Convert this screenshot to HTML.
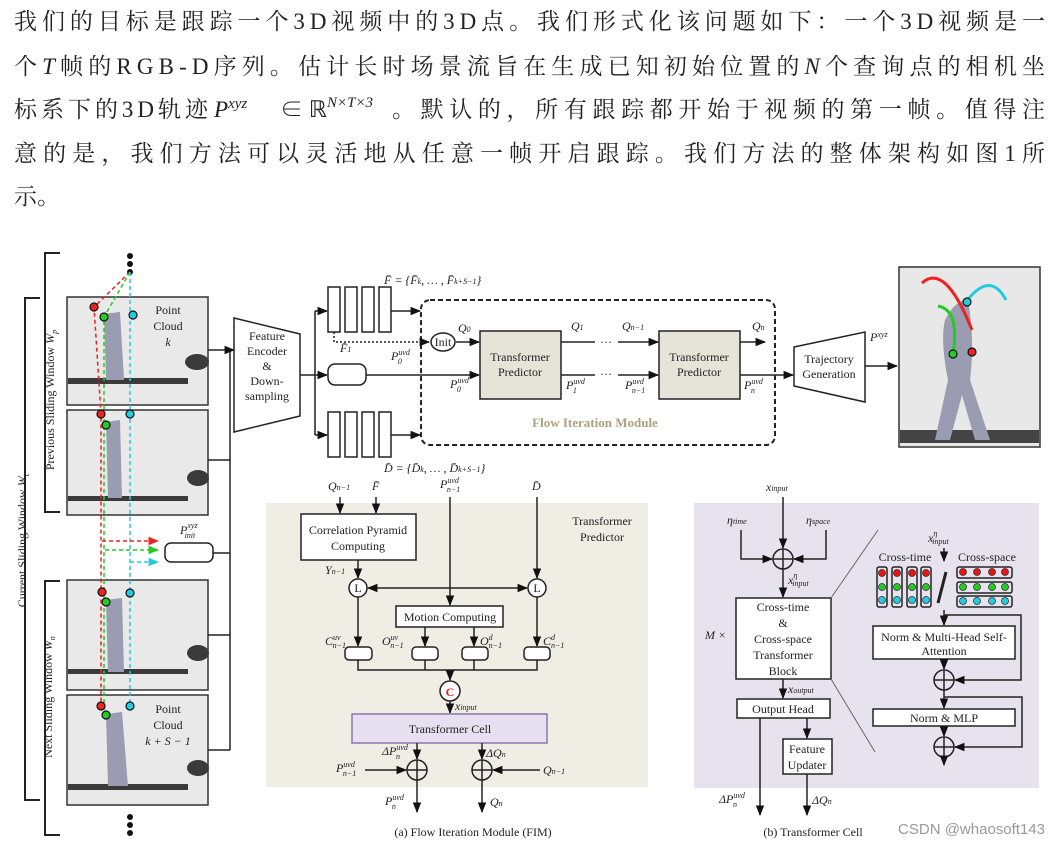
<!DOCTYPE html>
<html><head><meta charset="utf-8"><style>
html,body{margin:0;padding:0;background:#fff;width:1061px;height:845px;overflow:hidden}
svg{display:block}
.cn{font-family:"Liberation Serif","Noto Serif CJK SC","Noto Sans CJK SC",serif;font-size:23px;fill:#222}
.t{font-family:"Liberation Serif",serif;font-size:12px;fill:#222}
.i{font-family:"Liberation Serif",serif;font-size:12px;font-style:italic;fill:#222}
.s{font-size:8px}
</style></head><body>
<svg width="1061" height="845" viewBox="0 0 1061 845" xmlns="http://www.w3.org/2000/svg">
<defs>
<marker id="a" viewBox="0 0 10 10" refX="9" refY="5" markerWidth="7" markerHeight="7" orient="auto-start-reverse"><path d="M0,1 L10,5 L0,9z" fill="#111"/></marker>
<marker id="ar" viewBox="0 0 10 10" refX="9" refY="5" markerWidth="7" markerHeight="7" orient="auto"><path d="M0,1 L10,5 L0,9z" fill="#e22"/></marker>
<marker id="ag" viewBox="0 0 10 10" refX="9" refY="5" markerWidth="7" markerHeight="7" orient="auto"><path d="M0,1 L10,5 L0,9z" fill="#2c2"/></marker>
<marker id="ac" viewBox="0 0 10 10" refX="9" refY="5" markerWidth="7" markerHeight="7" orient="auto"><path d="M0,1 L10,5 L0,9z" fill="#2cd"/></marker>
</defs>

<!-- paragraph -->
<text class="cn" x="14" y="29" textLength="1031" lengthAdjust="spacing">我们的目标是跟踪一个3D视频中的3D点。我们形式化该问题如下：一个3D视频是一</text>
<text class="cn" x="14" y="74" textLength="1031" lengthAdjust="spacing">个<tspan font-style="italic">T</tspan>帧的RGB-D序列。估计长时场景流旨在生成已知初始位置的<tspan font-style="italic">N</tspan>个查询点的相机坐</text>
<text class="cn" x="14" y="117" textLength="194" lengthAdjust="spacing">标系下的3D轨迹</text>
<text class="cn" x="214" y="117"><tspan font-style="italic">P</tspan><tspan font-style="italic" font-size="15" dy="-9">xyz</tspan></text>
<text class="cn" x="280" y="117">∈ ℝ<tspan font-size="15" dy="-10" font-style="italic">N×T×3</tspan></text>
<text class="cn" x="392" y="117" textLength="653" lengthAdjust="spacing">。默认的，所有跟踪都开始于视频的第一帧。值得注</text>
<text class="cn" x="14" y="161" textLength="1031" lengthAdjust="spacing">意的是，我们方法可以灵活地从任意一帧开启跟踪。我们方法的整体架构如图1所</text>
<text class="cn" x="14" y="204">示。</text>

<!-- left brackets -->
<g stroke="#222" stroke-width="2" fill="none">
<path d="M60,253 H45 V512 H60"/>
<path d="M60,581 H45 V835 H60"/>
<path d="M40,298 H25 V800 H40"/>
</g>
<text class="t" font-size="11" transform="translate(54,400) rotate(-90)" text-anchor="middle">Previous Sliding Window <tspan font-style="italic">W</tspan><tspan class="s" font-style="italic" dy="3">p</tspan></text>
<text class="t" font-size="11" transform="translate(26,540) rotate(-90)" text-anchor="middle">Current Sliding Window <tspan font-style="italic">W</tspan><tspan class="s" font-style="italic" dy="3">c</tspan></text>
<text class="t" font-size="11" transform="translate(52,697) rotate(-90)" text-anchor="middle">Next Sliding Window <tspan font-style="italic">W</tspan><tspan class="s" font-style="italic" dy="3">n</tspan></text>

<!-- frames -->
<g stroke="#333" stroke-width="1.5">
<rect x="67" y="297" width="141" height="108" fill="#e9e9e9"/>
<rect x="67" y="410" width="141" height="105" fill="#e9e9e9"/>
<rect x="67" y="580" width="141" height="110" fill="#e9e9e9"/>
<rect x="67" y="695" width="141" height="110" fill="#e9e9e9"/>
</g>
<g fill="#3a3a3a">
<rect x="68" y="378" width="120" height="6"/><rect x="68" y="496" width="120" height="5"/>
<rect x="68" y="669" width="120" height="5"/><rect x="68" y="784" width="120" height="6"/>
<ellipse cx="197" cy="362" rx="12" ry="8"/><ellipse cx="198" cy="478" rx="11" ry="8"/>
<ellipse cx="198" cy="653" rx="11" ry="8"/><ellipse cx="198" cy="768" rx="11" ry="8"/>
</g>
<g fill="#9a9cb2">
<path d="M104,314 L120,312 L124,380 L106,380z"/><path d="M106,422 L120,420 L122,498 L108,498z"/>
<path d="M106,600 L122,598 L124,672 L108,672z"/><path d="M106,714 L122,712 L128,786 L108,786z"/>
</g>
<text class="t" x="168" y="314" text-anchor="middle">Point</text>
<text class="t" x="168" y="330" text-anchor="middle">Cloud</text>
<text class="i" x="168" y="346" text-anchor="middle">k</text>
<text class="t" x="168" y="713" text-anchor="middle">Point</text>
<text class="t" x="168" y="729" text-anchor="middle">Cloud</text>
<text class="i" x="168" y="745" text-anchor="middle">k + S − 1</text>
<g fill="#111"><circle cx="130" cy="256" r="3"/><circle cx="130" cy="264" r="3"/><circle cx="130" cy="272" r="3"/>
<circle cx="130" cy="817" r="3"/><circle cx="130" cy="825" r="3"/><circle cx="130" cy="833" r="3"/></g>
<g fill="none" stroke-width="1.5" stroke-dasharray="4,3">
<path d="M130,272 L94,307 L101,414 V706" stroke="#e22"/>
<path d="M130,272 L104,317 V715" stroke="#2c2"/>
<path d="M130,272 V706" stroke="#2cd"/>
<path d="M102,541 H158" stroke="#e22" marker-end="url(#ar)"/>
<path d="M105,550 H158" stroke="#2c2" marker-end="url(#ag)"/>
<path d="M130,562 H158" stroke="#2cd" marker-end="url(#ac)"/>
</g>
<g stroke="#111" stroke-width="1.2">
<circle cx="94" cy="307" r="4" fill="#e22"/><circle cx="104" cy="317" r="4" fill="#2c2"/><circle cx="133" cy="315" r="4" fill="#2cd"/>
<circle cx="101" cy="414" r="4" fill="#e22"/><circle cx="106" cy="425" r="4" fill="#2c2"/><circle cx="130" cy="414" r="4" fill="#2cd"/>
<circle cx="102" cy="592" r="4" fill="#e22"/><circle cx="106" cy="602" r="4" fill="#2c2"/><circle cx="130" cy="593" r="4" fill="#2cd"/>
<circle cx="101" cy="706" r="4" fill="#e22"/><circle cx="106" cy="715" r="4" fill="#2c2"/><circle cx="130" cy="706" r="4" fill="#2cd"/>
</g>
<rect x="165" y="543" width="48" height="19" rx="6" fill="#fff" stroke="#222" stroke-width="1.5"/>
<text class="i" x="180" y="534">P<tspan class="s" dy="-6">xyz</tspan><tspan class="s" dx="-13" dy="10">init</tspan></text>

<!-- connectors to encoder -->
<g stroke="#222" stroke-width="1.5" fill="none">
<path d="M208,350 H230 M208,460 H230 M213,553 H230 M208,635 H230 M208,750 H230 M230,350 V750"/>
<path d="M230,350 H234" marker-end="url(#a)"/>
<path d="M234,318 L300,334 V416 L234,432z"/>
<path d="M300,375 H315 M315,311 V435"/>
<path d="M315,311 H327" marker-end="url(#a)"/><path d="M315,375 H327" marker-end="url(#a)"/><path d="M315,435 H327" marker-end="url(#a)"/>
<rect x="328" y="287" width="12" height="45"/><rect x="345" y="287" width="12" height="45"/><rect x="362" y="287" width="12" height="45"/><rect x="379" y="287" width="12" height="45"/>
<rect x="328" y="412" width="12" height="45"/><rect x="345" y="412" width="12" height="45"/><rect x="362" y="412" width="12" height="45"/><rect x="379" y="412" width="12" height="45"/>
<rect x="328" y="364" width="38" height="21" rx="7"/>
<path d="M391,311 H420" marker-end="url(#a)"/><path d="M391,435 H420" marker-end="url(#a)"/>
<rect x="421" y="300" width="354" height="145" rx="9" stroke-dasharray="5,3" stroke-width="2"/>
<path d="M334,332 V342 H429" stroke-dasharray="2,2" marker-end="url(#a)"/>
<ellipse cx="443" cy="342" rx="12" ry="9"/>
<path d="M456,342 H479" marker-end="url(#a)"/>
<path d="M366,375 H479" marker-end="url(#a)"/>
<path d="M561,342 H595 M618,342 H658" marker-end="url(#a)"/>
<path d="M561,375 H595 M618,375 H658" marker-end="url(#a)"/>
<path d="M740,342 H765" marker-end="url(#a)"/>
<path d="M740,375 H793" marker-end="url(#a)"/>
<path d="M794,347 L865,332 V402 L794,386z"/>
<path d="M865,366 H897" marker-end="url(#a)"/>
</g>
<text class="t" x="267" y="340" text-anchor="middle">Feature</text>
<text class="t" x="267" y="355" text-anchor="middle">Encoder</text>
<text class="t" x="267" y="370" text-anchor="middle">&amp;</text>
<text class="t" x="267" y="385" text-anchor="middle">Down-</text>
<text class="t" x="267" y="400" text-anchor="middle">sampling</text>
<text class="i" x="384" y="284" font-size="11">F̄ = {F̄<tspan class="s">k</tspan>, … , F̄<tspan class="s">k+S−1</tspan>}</text>
<text class="i" x="384" y="472" font-size="11">D̄ = {D̄<tspan class="s">k</tspan>, … , D̄<tspan class="s">k+S−1</tspan>}</text>
<text class="i" x="340" y="352" font-size="10">F̄<tspan class="s">1</tspan></text>
<text class="t" x="443" y="346" text-anchor="middle" font-size="11">Init</text>
<text class="i" x="458" y="332">Q<tspan class="s">0</tspan></text>
<text class="i" x="391" y="360">P<tspan class="s" dy="-5">uvd</tspan><tspan class="s" dx="-12" dy="9">0</tspan></text>
<text class="i" x="450" y="388">P<tspan class="s" dy="-5">uvd</tspan><tspan class="s" dx="-12" dy="9">0</tspan></text>
<rect x="480" y="331" width="81" height="68" fill="#e6e4d9" stroke="#222" stroke-width="1.5"/>
<rect x="659" y="331" width="81" height="68" fill="#e6e4d9" stroke="#222" stroke-width="1.5"/>
<text class="t" x="520" y="361" text-anchor="middle">Transformer</text><text class="t" x="520" y="376" text-anchor="middle">Predictor</text>
<text class="t" x="699" y="361" text-anchor="middle">Transformer</text><text class="t" x="699" y="376" text-anchor="middle">Predictor</text>
<text class="t" x="606" y="346" text-anchor="middle">···</text><text class="t" x="606" y="378" text-anchor="middle">···</text>
<text class="i" x="571" y="330">Q<tspan class="s">1</tspan></text>
<text class="i" x="622" y="330">Q<tspan class="s">n−1</tspan></text>
<text class="i" x="752" y="330">Q<tspan class="s">n</tspan></text>
<text class="i" x="566" y="389">P<tspan class="s" dy="-5">uvd</tspan><tspan class="s" dx="-12" dy="9">1</tspan></text>
<text class="i" x="625" y="389">P<tspan class="s" dy="-5">uvd</tspan><tspan class="s" dx="-12" dy="9">n−1</tspan></text>
<text class="i" x="744" y="389">P<tspan class="s" dy="-5">uvd</tspan><tspan class="s" dx="-12" dy="9">n</tspan></text>
<text x="595" y="427" text-anchor="middle" font-family="Liberation Serif,serif" font-size="13" font-weight="bold" fill="#a8a37c">Flow Iteration Module</text>
<text class="t" x="829" y="363" text-anchor="middle">Trajectory</text><text class="t" x="829" y="378" text-anchor="middle">Generation</text>
<text class="i" x="870" y="341">P<tspan class="s" dy="-4">xyz</tspan></text>

<!-- right image -->
<rect x="899" y="267" width="141" height="180" fill="#e8e8e8" stroke="#333" stroke-width="1.5"/>
<rect x="900" y="430" width="139" height="13" fill="#444"/>
<path d="M945,320 Q955,300 968,300 Q975,340 970,380 L990,440 L975,440 L962,395 L950,440 L935,440 L948,380 Q940,340 945,320z" fill="#9a9cb2"/>
<g fill="none" stroke-width="3">
<path d="M922,283 Q945,262 972,330" stroke="#e22"/>
<path d="M938,306 Q960,310 953,354" stroke="#2c2"/>
<path d="M966,302 Q990,270 1006,300" stroke="#2cd"/>
</g>
<g stroke="#111" stroke-width="1.2"><circle cx="972" cy="352" r="4" fill="#e22"/><circle cx="953" cy="354" r="4" fill="#2c2"/><circle cx="967" cy="302" r="4" fill="#2cd"/></g>

<!-- panel a -->
<rect x="266" y="503" width="382" height="284" fill="#efede4"/>
<g stroke="#222" stroke-width="1.5" fill="none">
<path d="M340,497 V513" marker-end="url(#a)"/><path d="M376,497 V513" marker-end="url(#a)"/>
<rect x="301" y="514" width="115" height="46" fill="#fff"/>
<path d="M358,560 V578" marker-end="url(#a)"/>
<path d="M450,497 V605" marker-end="url(#a)"/>
<path d="M537,497 V578" marker-end="url(#a)"/>
<circle cx="358" cy="588" r="9" fill="#fff"/><circle cx="537" cy="588" r="9" fill="#fff"/>
<path d="M368,588 H527" marker-start="url(#a)" marker-end="url(#a)"/>
<rect x="396" y="606" width="107" height="21" fill="#fff"/>
<path d="M358,597 V646" marker-end="url(#a)"/><path d="M537,597 V646" marker-end="url(#a)"/>
<path d="M425,627 V646" marker-end="url(#a)"/><path d="M474,627 V646" marker-end="url(#a)"/>
<rect x="345" y="647" width="27" height="13" rx="4" fill="#fff"/><rect x="412" y="647" width="26" height="13" rx="4" fill="#fff"/>
<rect x="462" y="647" width="26" height="13" rx="4" fill="#fff"/><rect x="524" y="647" width="26" height="13" rx="4" fill="#fff"/>
<path d="M358,660 V670 H537 V660 M425,660 V670 M474,660 V670"/>
<path d="M450,670 V680" marker-end="url(#a)"/>
<circle cx="450" cy="691" r="10" fill="#fff"/>
<path d="M450,701 V713" marker-end="url(#a)"/>
<rect x="352" y="714" width="195" height="29" fill="#e6e0f0" stroke="#8878b0"/>
<path d="M417,743 V759" marker-end="url(#a)"/><path d="M482,743 V759" marker-end="url(#a)"/>
<circle cx="417" cy="770" r="10"/><path d="M407,770 H427 M417,760 V780"/>
<circle cx="482" cy="770" r="10"/><path d="M472,770 H492 M482,760 V780"/>
<path d="M365,770 H406" marker-end="url(#a)"/><path d="M540,770 H493" marker-end="url(#a)"/>
<path d="M417,780 V812" marker-end="url(#a)"/><path d="M482,780 V812" marker-end="url(#a)"/>
</g>
<text class="i" x="328" y="490">Q<tspan class="s">n−1</tspan></text><text class="i" x="372" y="490">F̄</text>
<text class="i" x="440" y="488">P<tspan class="s" dy="-5">uvd</tspan><tspan class="s" dx="-12" dy="9">n−1</tspan></text>
<text class="i" x="532" y="490">D̄</text>
<text class="t" x="358" y="534" text-anchor="middle">Correlation Pyramid</text>
<text class="t" x="358" y="550" text-anchor="middle">Computing</text>
<text class="t" x="602" y="525" text-anchor="middle">Transformer</text><text class="t" x="602" y="541" text-anchor="middle">Predictor</text>
<text class="i" x="325" y="574">Y<tspan class="s">n−1</tspan></text>
<text class="t" x="358" y="592" text-anchor="middle" font-size="11">L</text><text class="t" x="537" y="592" text-anchor="middle" font-size="11">L</text>
<text class="t" x="450" y="621" text-anchor="middle">Motion Computing</text>
<text class="i" x="325" y="645">C<tspan class="s" dy="-5">uv</tspan><tspan class="s" dx="-8" dy="8">n−1</tspan></text>
<text class="i" x="382" y="645">O<tspan class="s" dy="-5">uv</tspan><tspan class="s" dx="-8" dy="8">n−1</tspan></text>
<text class="i" x="480" y="645">O<tspan class="s" dy="-5">d</tspan><tspan class="s" dx="-4" dy="8">n−1</tspan></text>
<text class="i" x="543" y="645">C<tspan class="s" dy="-5">d</tspan><tspan class="s" dx="-4" dy="8">n−1</tspan></text>
<text x="450" y="696" text-anchor="middle" font-family="Liberation Serif,serif" font-size="12" font-weight="bold" fill="#d22">C</text>
<text class="i" x="455" y="710">x<tspan class="s">input</tspan></text>
<text class="t" x="450" y="733" text-anchor="middle">Transformer Cell</text>
<text class="i" x="382" y="755">ΔP<tspan class="s" dy="-5">uvd</tspan><tspan class="s" dx="-12" dy="9">n</tspan></text>
<text class="i" x="486" y="757">ΔQ<tspan class="s">n</tspan></text>
<text class="i" x="336" y="772">P<tspan class="s" dy="-5">uvd</tspan><tspan class="s" dx="-12" dy="9">n−1</tspan></text>
<text class="i" x="543" y="774">Q<tspan class="s">n−1</tspan></text>
<text class="i" x="385" y="805">P<tspan class="s" dy="-5">uvd</tspan><tspan class="s" dx="-12" dy="9">n</tspan></text>
<text class="i" x="490" y="806">Q<tspan class="s">n</tspan></text>
<text class="t" x="473" y="836" text-anchor="middle" font-size="11">(a) Flow Iteration Module (FIM)</text>

<!-- panel b -->
<rect x="694" y="503" width="345" height="285" fill="#e6e3ef"/>
<g stroke="#222" stroke-width="1.5" fill="none">
<path d="M783,497 V548" marker-end="url(#a)"/>
<path d="M741,530 V559 H772" marker-end="url(#a)"/><path d="M826,530 V559 H794" marker-end="url(#a)"/>
<circle cx="783" cy="559" r="10"/><path d="M773,559 H793 M783,549 V569"/>
<path d="M783,569 V597" marker-end="url(#a)"/>
<rect x="736" y="598" width="95" height="81" fill="#fff"/>
<path d="M783,679 V698" marker-end="url(#a)"/>
<rect x="737" y="699" width="93" height="19" fill="#fff"/>
<path d="M760,718 V815" marker-end="url(#a)"/>
<path d="M807,718 V738" marker-end="url(#a)"/>
<rect x="783" y="739" width="49" height="35" fill="#fff"/>
<path d="M807,774 V815" marker-end="url(#a)"/>
<path d="M831,598 L878,530 M831,679 L875,752" stroke="#666" stroke-width="1"/>
<path d="M944,548 V561" marker-end="url(#a)"/>
<rect x="877" y="567" width="10" height="40" rx="2"/><rect x="892" y="567" width="10" height="40" rx="2"/>
<rect x="907" y="567" width="10" height="40" rx="2"/><rect x="921" y="567" width="10" height="40" rx="2"/>
<rect x="957" y="567" width="55" height="11" rx="2"/><rect x="957" y="582" width="55" height="11" rx="2"/><rect x="957" y="596" width="55" height="11" rx="2"/>
<path d="M938,603 L946,572" stroke-width="3"/>
<path d="M944,610 V625" marker-end="url(#a)"/>
<path d="M944,615 H1021 V680 H955" marker-end="url(#a)"/>
<rect x="873" y="626" width="142" height="33" fill="#fff"/>
<path d="M944,659 V669" marker-end="url(#a)"/>
<circle cx="944" cy="680" r="10"/><path d="M934,680 H954 M944,670 V690"/>
<path d="M944,690 V708" marker-end="url(#a)"/>
<path d="M944,697 H1022 V747 H955" marker-end="url(#a)"/>
<rect x="873" y="709" width="142" height="17" fill="#fff"/>
<path d="M944,726 V736" marker-end="url(#a)"/>
<circle cx="944" cy="747" r="10"/><path d="M934,747 H954 M944,737 V757"/>
<path d="M944,757 V765" marker-end="url(#a)"/>
</g>
<g stroke="#333" stroke-width="0.8">
<g fill="#e11"><circle cx="882" cy="573" r="3.5"/><circle cx="897" cy="573" r="3.5"/><circle cx="912" cy="573" r="3.5"/><circle cx="926" cy="573" r="3.5"/>
<circle cx="963" cy="572" r="3.5"/><circle cx="977" cy="572" r="3.5"/><circle cx="992" cy="572" r="3.5"/><circle cx="1005" cy="572" r="3.5"/></g>
<g fill="#2c2"><circle cx="882" cy="587" r="3.5"/><circle cx="897" cy="587" r="3.5"/><circle cx="912" cy="587" r="3.5"/><circle cx="926" cy="587" r="3.5"/>
<circle cx="963" cy="587" r="3.5"/><circle cx="977" cy="587" r="3.5"/><circle cx="992" cy="587" r="3.5"/><circle cx="1005" cy="587" r="3.5"/></g>
<g fill="#2cd"><circle cx="882" cy="600" r="3.5"/><circle cx="897" cy="600" r="3.5"/><circle cx="912" cy="600" r="3.5"/><circle cx="926" cy="600" r="3.5"/>
<circle cx="963" cy="601" r="3.5"/><circle cx="977" cy="601" r="3.5"/><circle cx="992" cy="601" r="3.5"/><circle cx="1005" cy="601" r="3.5"/></g>
</g>
<text class="i" x="766" y="491">x<tspan class="s">input</tspan></text>
<text class="i" x="727" y="524">η<tspan class="s">time</tspan></text>
<text class="i" x="806" y="524">η<tspan class="s">space</tspan></text>
<text class="i" x="788" y="584">x<tspan class="s" dy="-6">η</tspan><tspan class="s" dx="-5" dy="8">input</tspan></text>
<text class="t" x="783" y="611" text-anchor="middle">Cross-time</text>
<text class="t" x="783" y="627" text-anchor="middle">&amp;</text>
<text class="t" x="783" y="643" text-anchor="middle">Cross-space</text>
<text class="t" x="783" y="659" text-anchor="middle">Transformer</text>
<text class="t" x="783" y="675" text-anchor="middle">Block</text>
<text class="i" x="705" y="639">M ×</text>
<text class="i" x="788" y="693">x<tspan class="s">output</tspan></text>
<text class="t" x="783" y="713" text-anchor="middle">Output Head</text>
<text class="t" x="807" y="753" text-anchor="middle">Feature</text><text class="t" x="807" y="769" text-anchor="middle">Updater</text>
<text class="i" x="719" y="803">ΔP<tspan class="s" dy="-5">uvd</tspan><tspan class="s" dx="-12" dy="9">n</tspan></text>
<text class="i" x="812" y="804">ΔQ<tspan class="s">n</tspan></text>
<text class="i" x="928" y="542">x<tspan class="s" dy="-6">η</tspan><tspan class="s" dx="-5" dy="8">input</tspan></text>
<text class="t" x="905" y="561" text-anchor="middle">Cross-time</text>
<text class="t" x="987" y="561" text-anchor="middle">Cross-space</text>
<text class="t" x="944" y="641" text-anchor="middle">Norm &amp; Multi-Head Self-</text>
<text class="t" x="944" y="655" text-anchor="middle">Attention</text>
<text class="t" x="944" y="722" text-anchor="middle">Norm &amp; MLP</text>
<text class="t" x="813" y="836" text-anchor="middle" font-size="11">(b) Transformer Cell</text>
<text x="1045" y="834" text-anchor="end" font-family="Liberation Sans,sans-serif" font-size="15" fill="#999">CSDN @whaosoft143</text>
</svg>
</body></html>
